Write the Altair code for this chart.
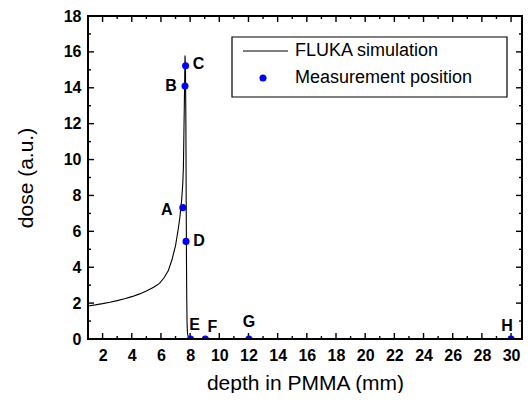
import altair as alt
import pandas as pd

# ---- data ----
curve_depth = [1.0, 1.5, 2.0, 2.5, 3.0, 3.5, 4.0, 4.5, 5.0, 5.5, 5.9, 6.2, 6.5, 6.75, 7.0, 7.2,
               7.3, 7.42, 7.5, 7.54, 7.6, 7.65, 7.68, 7.71, 7.73, 7.75, 7.77, 7.79, 7.82, 7.9, 8.5, 30.75]
curve_dose = [1.84, 1.9, 1.97, 2.05, 2.14, 2.24, 2.36, 2.5, 2.67, 2.88, 3.1, 3.4, 3.8, 4.4, 5.2, 6.2,
              6.8, 7.75, 8.7, 9.6, 12.9, 15.8, 15.2, 12.0, 8.0, 4.5, 2.2, 0.9, 0.3, 0.05, 0.0, 0.0]

pos_labels = ["A", "B", "C", "D", "E", "F", "G", "H"]
pos_depth = [7.5, 7.65, 7.69, 7.72, 8.03, 9.04, 12.03, 30.0]
pos_dose = [7.32, 14.1, 15.23, 5.44, 0.0, 0.0, 0.0, 0.0]

x_major = [2, 4, 6, 8, 10, 12, 14, 16, 18, 20, 22, 24, 26, 28, 30]
x_minor = [3, 5, 7, 9, 11, 13, 15, 17, 19, 21, 23, 25, 27, 29]
y_major = [0, 2, 4, 6, 8, 10, 12, 14, 16, 18]
y_minor = [1, 3, 5, 7, 9, 11, 13, 15, 17]

legend_names = ["FLUKA simulation", "Measurement position"]

# ---- styles ----
W, H = 434, 323
FONT = "Liberation Sans"
xscale = alt.Scale(domain=[1, 30.75], nice=False, zero=False)
yscale = alt.Scale(domain=[0, 18], nice=False)
label_offsets = {"A": (-16, 2), "B": (-14, 0), "C": (13, -2), "D": (13, 0),
                 "E": (4, -14), "F": (7, -12), "G": (0, -17), "H": (-4, -13)}

X_AXIS = alt.Axis(title="depth in PMMA (mm)", values=x_major, ticks=False, domain=False,
                  grid=False, labelFont=FONT, labelFontSize=16, labelFontWeight="bold",
                  labelColor="black", labelPadding=8, titleFont=FONT, titleFontSize=21,
                  titleFontWeight="normal", titleColor="black", titlePadding=9)
Y_AXIS = alt.Axis(title="dose (a.u.)", values=y_major, ticks=False, domain=False,
                  grid=False, labelFont=FONT, labelFontSize=16, labelFontWeight="bold",
                  labelColor="black", labelPadding=7, titleFont=FONT, titleFontSize=21,
                  titleFontWeight="normal", titleColor="black", titlePadding=27)

curve_df = pd.DataFrame({"depth": curve_depth, "dose": curve_dose})
pts_df = pd.DataFrame({"label": pos_labels, "depth": pos_depth, "dose": pos_dose})

one = pd.DataFrame({"a": [0]})
frame = alt.Chart(one).mark_rect(fill=None, stroke="black", strokeWidth=2).encode(
    x=alt.value(0), x2=alt.value(W), y=alt.value(0), y2=alt.value(H))

base_curve = alt.Chart(curve_df).mark_line(color="black", strokeWidth=1.1, clip=True).encode(
    x=alt.X("depth:Q", scale=xscale, axis=X_AXIS),
    y=alt.Y("dose:Q", scale=yscale, axis=Y_AXIS),
)

points = alt.Chart(pts_df).mark_circle(color="#0000FF", size=50, opacity=1, clip=True).encode(
    x=alt.X("depth:Q", scale=xscale, axis=X_AXIS),
    y=alt.Y("dose:Q", scale=yscale, axis=Y_AXIS),
)

text_layers = []
for lab in pos_labels:
    dx, dy = label_offsets[lab]
    text_layers.append(
        alt.Chart(pts_df).transform_filter(alt.datum.label == lab).mark_text(
            font=FONT, fontSize=16, fontWeight="bold", color="black", dx=dx, dy=dy,
            align="center", baseline="middle").encode(
            x=alt.X("depth:Q", scale=xscale, axis=X_AXIS),
            y=alt.Y("dose:Q", scale=yscale, axis=Y_AXIS),
            text="label:N")
    )

def tick_layer(vals, chan, length, side):
    df = pd.DataFrame({"v": vals})
    if chan == "x":
        if side == "bottom":
            y0, y1 = H, H - length
        else:
            y0, y1 = 0, length
        return alt.Chart(df).mark_rule(color="black", strokeWidth=1.4).encode(
            x=alt.X("v:Q", scale=xscale, axis=X_AXIS), y=alt.value(y0), y2=alt.value(y1))
    else:
        if side == "left":
            x0, x1 = 0, length
        else:
            x0, x1 = W, W - length
        return alt.Chart(df).mark_rule(color="black", strokeWidth=1.4).encode(
            y=alt.Y("v:Q", scale=yscale, axis=Y_AXIS), x=alt.value(x0), x2=alt.value(x1))

ticks = [
    tick_layer(x_major, "x", 6, "bottom"), tick_layer(x_minor, "x", 3, "bottom"),
    tick_layer(x_major, "x", 6, "top"), tick_layer(x_minor, "x", 3, "top"),
    tick_layer(y_major, "y", 6, "left"), tick_layer(y_minor, "y", 3, "left"),
    tick_layer(y_major, "y", 6, "right"), tick_layer(y_minor, "y", 3, "right"),
]

leg_box = alt.Chart(one).mark_rect(fill="white", stroke="black", strokeWidth=1.2).encode(
    x=alt.value(144), x2=alt.value(419), y=alt.value(21), y2=alt.value(81))
leg_line = alt.Chart(one).mark_rule(color="black", strokeWidth=1.1).encode(
    x=alt.value(155), x2=alt.value(200), y=alt.value(35))
leg_dot = alt.Chart(one).mark_circle(color="#0000FF", size=50, opacity=1).encode(
    x=alt.value(175), y=alt.value(62))
leg_t1 = alt.Chart(pd.DataFrame({"t": [legend_names[0]]})).mark_text(
    font=FONT, fontSize=18, align="left", baseline="middle", color="black").encode(
    x=alt.value(207), y=alt.value(35), text="t:N")
leg_t2 = alt.Chart(pd.DataFrame({"t": [legend_names[1]]})).mark_text(
    font=FONT, fontSize=18, align="left", baseline="middle", color="black").encode(
    x=alt.value(207), y=alt.value(62), text="t:N")

chart = alt.layer(base_curve, *ticks, points, *text_layers,
                  leg_box, leg_line, leg_dot, leg_t1, leg_t2, frame).properties(
    width=W, height=H,
    autosize=alt.AutoSizeParams(type="none"),
    padding={"left": 80, "top": 8, "right": 1, "bottom": 54},
).configure_view(stroke=None).configure(background="white")

chart.save("out.html", embed_options={"renderer": "svg", "actions": False})
